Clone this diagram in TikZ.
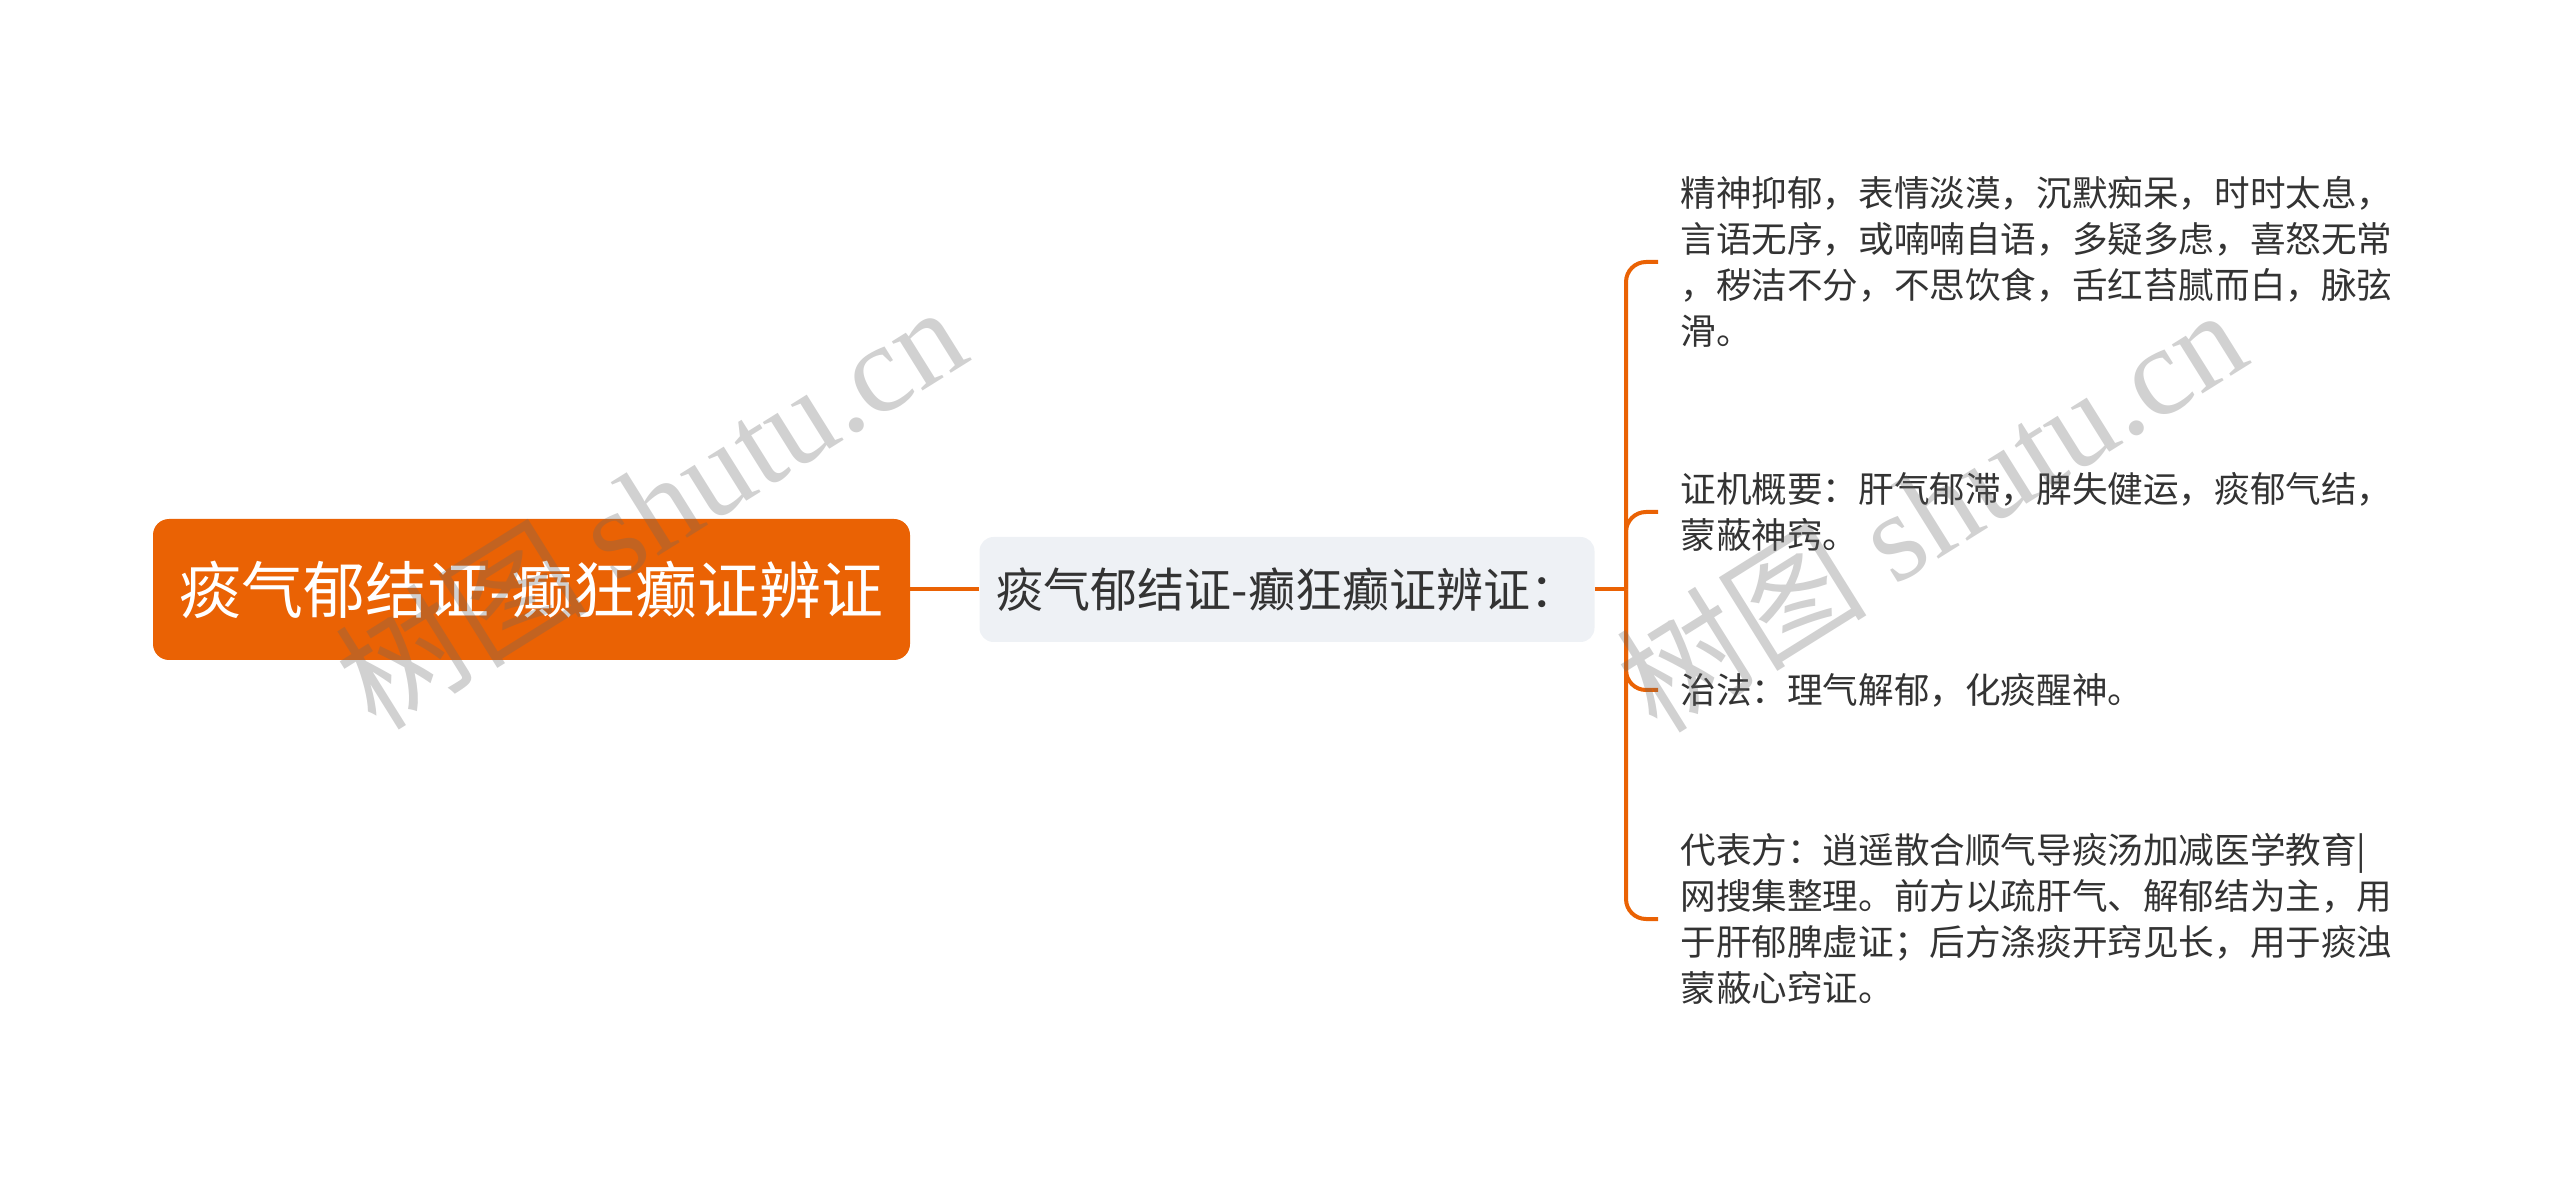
\documentclass[tikz,border=0pt]{standalone}
\usepackage{fontspec}
\setmainfont{Noto Sans CJK SC}
\newfontfamily\cjk{Noto Sans CJK SC}
\newfontfamily\wmlat{Liberation Serif}
\definecolor{orangeM}{RGB}{234,98,4}
\definecolor{midfill}{RGB}{238,241,245}
\definecolor{txt}{RGB}{51,51,51}
\begin{document}
\begin{tikzpicture}[x=0.5pt,y=-0.5pt,
 rootbox/.style={fill=orangeM, draw=none, rounded corners=8pt, minimum width=378.5pt, minimum height=70.5pt, inner sep=0pt, text=white, font=\fontsize{31}{36}\selectfont},
 midbox/.style={fill=midfill, draw=none, rounded corners=7pt, minimum width=307.5pt, minimum height=52.5pt, inner sep=0pt, text=txt, font=\fontsize{23.5}{28}\selectfont},
 leaf/.style={anchor=west, align=left, inner xsep=11pt, inner ysep=0pt, text=txt, font=\fontsize{17.8}{23}\selectfont},
 conn/.style={draw=orangeM, line width=2pt},
 wm/.style={text=black!60, opacity=0.3, rotate=32, inner sep=0pt, font=\fontsize{63}{66}\selectfont}
]
\useasboundingbox (0,0) rectangle (2560,1181);
\node[rootbox] (root) at (531.5,589.5) {痰气郁结证-癫狂癫证辨证};
\node[midbox] (mid) at (1287,589.5) {痰气郁结证-癫狂癫证辨证：};
\coordinate (j) at (1626,589.5);
\node[leaf] (l1) at (1658,262) {精神抑郁，表情淡漠，沉默痴呆，时时太息，\\言语无序，或喃喃自语，多疑多虑，喜怒无常\\，秽洁不分，不思饮食，舌红苔腻而白，脉弦\\滑。};
\node[leaf] (l2) at (1658,512) {证机概要：肝气郁滞，脾失健运，痰郁气结，\\蒙蔽神窍。};
\node[leaf] (l3) at (1658,690) {治法：理气解郁，化痰醒神。};
\node[leaf] (l4) at (1658,919) {代表方：逍遥散合顺气导痰汤加减医学教育|\\网搜集整理。前方以疏肝气、解郁结为主，用\\于肝郁脾虚证；后方涤痰开窍见长，用于痰浊\\蒙蔽心窍证。};
\draw[conn] (root) -- (mid);
\draw[conn] (mid.east) -- (j);
\foreach \n in {l1,l2,l3,l4} \draw[conn, rounded corners=10pt] (j) |- (\n.west);
\node[wm] (wm1) at (650,505) {{\cjk 树图} {\wmlat shutu.cn}};
\node[wm] (wm2) at (1930,508) {{\cjk 树图} {\wmlat shutu.cn}};
\end{tikzpicture}
\end{document}
